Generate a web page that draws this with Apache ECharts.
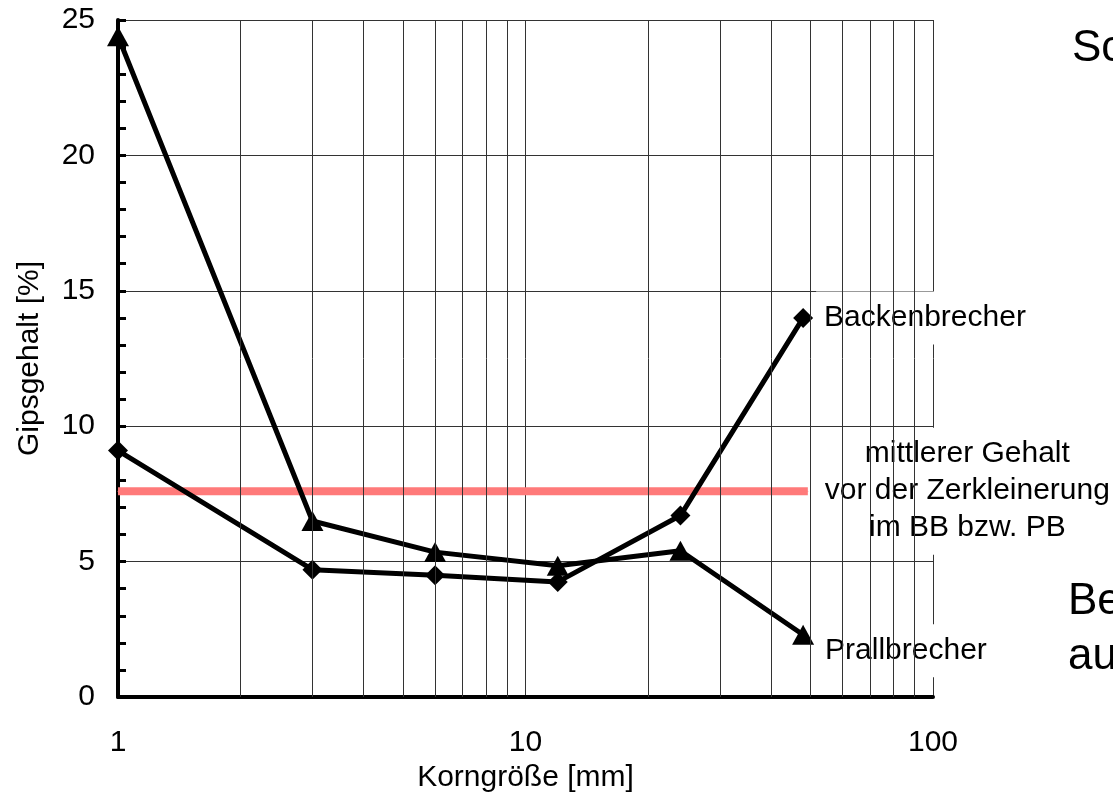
<!DOCTYPE html>
<html>
<head>
<meta charset="utf-8">
<script src="https://cdn.jsdelivr.net/npm/echarts@6/dist/echarts.min.js"></script>
<style>
  html, body { margin: 0; padding: 0; background: #fff; }
  #chart { width: 1113px; height: 807px; }
</style>
</head>
<body>
<div id="chart"></div>
<script>
// Korngröße der Fraktionen [mm]
const grainSizes = [1, 3, 6, 12, 24, 48];
// Gipsgehalt je Fraktion [%]
const backenbrecher = [9.1, 4.7, 4.5, 4.25, 6.7, 14.0];
const prallbrecher = [24.4, 6.5, 5.35, 4.85, 5.4, 2.3];
// mittlerer Gehalt vor der Zerkleinerung
const meanRange = [1, 49.3];
const meanContent = 7.6;
// logarithmisches Raster zwischen den Dekaden
const minorGridX = [2, 3, 4, 5, 6, 7, 8, 9, 20, 30, 40, 50, 60, 70, 80, 90];

const FONT = 'Liberation Sans, Arial, sans-serif';

function endLabel(text, offset) {
  return {
    show: true,
    position: 'right',
    distance: 3,
    offset: offset,
    formatter: text,
    color: '#000',
    fontFamily: FONT,
    fontSize: 30,
    lineHeight: 37,
    backgroundColor: '#fff',
    padding: [8, 8]
  };
}

function seriesData(values, labelText, offset) {
  const last = values.length - 1;
  return grainSizes.map((x, i) =>
    i === last ? { value: [x, values[i]], label: endLabel(labelText, offset) } : [x, values[i]]
  );
}

const chart = echarts.init(document.getElementById('chart'), null, { renderer: 'canvas' });

chart.setOption({
  animation: false,
  backgroundColor: '#fff',
  grid: { left: 118, right: 180, top: 20, bottom: 110, containLabel: false },
  xAxis: {
    type: 'log',
    logBase: 10,
    min: 1,
    max: 100,
    name: 'Korngröße [mm]',
    nameLocation: 'middle',
    nameGap: 61,
    nameTextStyle: { color: '#000', fontFamily: FONT, fontSize: 30 },
    axisLine: { show: true, onZero: false, lineStyle: { color: '#000', width: 4 } },
    axisTick: { show: false },
    axisLabel: { color: '#000', fontFamily: FONT, fontSize: 30, margin: 31 },
    splitLine: { show: true, lineStyle: { color: '#333', width: 1 } }
  },
  yAxis: {
    type: 'value',
    min: 0,
    max: 25,
    interval: 5,
    name: 'Gipsgehalt [%]',
    nameLocation: 'middle',
    nameGap: 73,
    nameTextStyle: { color: '#000', fontFamily: FONT, fontSize: 30 },
    axisLine: { show: true, lineStyle: { color: '#000', width: 4 } },
    axisTick: { show: true, inside: true, length: 8, lineStyle: { color: '#000', width: 3 } },
    minorTick: { show: true, splitNumber: 5, length: 8, lineStyle: { color: '#000', width: 3 } },
    axisLabel: { color: '#000', fontFamily: FONT, fontSize: 30, margin: 23, padding: [4, 0, 0, 0] },
    splitLine: { show: true, lineStyle: { color: '#333', width: 1 } }
  },
  series: [
    {
      name: 'raster',
      type: 'line',
      data: [],
      z: 1,
      silent: true,
      markLine: {
        silent: true,
        animation: false,
        symbol: ['none', 'none'],
        label: { show: false },
        emphasis: { disabled: true },
        lineStyle: { type: 'solid', color: '#333', width: 1 },
        data: minorGridX.map(v => ({ xAxis: v }))
      }
    },
    {
      name: 'mittlerer Gehalt',
      type: 'line',
      z: 2,
      silent: true,
      symbol: 'circle',
      symbolSize: 1,
      itemStyle: { color: '#ff7a7a' },
      lineStyle: { color: '#ff7a7a', width: 8 },
      data: meanRange.map((x, i) => i === meanRange.length - 1 ? {
        value: [x, meanContent],
        label: {
          show: true,
          position: 'right',
          distance: 7,
          backgroundColor: '#fff',
          padding: [8, 0],
          formatter: '{c|mittlerer Gehalt}\n{c|vor der Zerkleinerung}\n{c|im BB bzw. PB}',
          rich: {
            c: { width: 304, align: 'center', color: '#000', fontFamily: FONT, fontSize: 30, lineHeight: 37 }
          }
        }
      } : [x, meanContent])
    },
    {
      name: 'Backenbrecher',
      type: 'line',
      z: 3,
      symbol: 'diamond',
      symbolSize: 20,
      itemStyle: { color: '#000' },
      lineStyle: { color: '#000', width: 5 },
      label: { show: false },
      data: seriesData(backenbrecher, 'Backenbrecher', [0, 0])
    },
    {
      name: 'Prallbrecher',
      type: 'line',
      z: 3,
      symbol: 'triangle',
      symbolSize: [22, 20],
      itemStyle: { color: '#000' },
      lineStyle: { color: '#000', width: 5 },
      label: { show: false },
      data: seriesData(prallbrecher, 'Prallbrecher', [0, 16])
    }
  ],
  graphic: [
    { type: 'text', left: 1072, top: 27, style: { text: 'Sc', fill: '#000', fontFamily: FONT, fontSize: 44, lineHeight: 44 } },
    { type: 'text', left: 1068, top: 574, style: { text: 'Be\nau', fill: '#000', fontFamily: FONT, fontSize: 44, lineHeight: 55 } }
  ]
});
</script>
</body>
</html>
